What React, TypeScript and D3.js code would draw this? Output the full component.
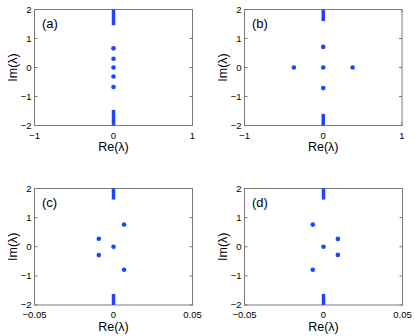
import React from "react";
import * as d3 from "d3";

const panelLabels = ["(a)", "(b)", "(c)", "(d)"];
const xDomains: [number, number][] = [[-1, 1], [-1, 1], [-0.05, 0.05], [-0.05, 0.05]];
const xTicks: number[][] = [[-1, 0, 1], [-1, 0, 1], [-0.05, 0, 0.05], [-0.05, 0, 0.05]];
const yTicks = [-2, -1, 0, 1, 2];

const reA = [0, 0, 0, 0, 0];
const imA = [0.66, 0.3, 0, -0.31, -0.67];
const reB = [0, 0, 0, -0.373, 0.373];
const imB = [0.71, 0, -0.71, 0, 0];
const reC = [-0.0093, -0.0093, 0, 0.0067, 0.0067];
const imC = [0.276, -0.287, 0, 0.76, -0.79];
const reD = [-0.0068, 0.0091, 0, 0.0091, -0.0068];
const imD = [0.76, 0.27, 0, -0.28, -0.79];

// continuous spectrum: edge of band (|Im| from edge to 2)
const bandEdge = [1.46, 1.6, 1.62, 1.62];

const panelRe = [reA, reB, reC, reD];
const panelIm = [imA, imB, imC, imD];

const boxes = [
  { x0: 34.5, x1: 192.5, y0: 9.5, y1: 125.5 },
  { x0: 244.5, x1: 402, y0: 9.5, y1: 125.5 },
  { x0: 34.5, x1: 192.5, y0: 188.5, y1: 305 },
  { x0: 244.5, x1: 402.5, y0: 188.5, y1: 305 },
];

const BLUE = "#1f45ff";
const AXIS = "#7a7a7a";
const FONT = "'Liberation Sans', Arial, sans-serif";

function fmt(v: number) {
  if (v === 0) return "0";
  const s = String(Math.abs(v));
  return (v < 0 ? "\u2212" : "") + s;
}

function Panel({ i }: { i: number }) {
  const b = boxes[i];
  const x = d3.scaleLinear().domain(xDomains[i]).range([b.x0, b.x1]);
  const y = d3.scaleLinear().domain([-2, 2]).range([b.y1, b.y0]);
  const tl = 3;
  const band = bandEdge[i];
  const xs = panelRe[i];
  const ys = panelIm[i];
  return (
    <g>
      <rect x={b.x0} y={b.y0} width={b.x1 - b.x0} height={b.y1 - b.y0} fill="white" stroke={AXIS} strokeWidth={1} />
      {yTicks.map((t) => (
        <g key={"y" + t}>
          <line x1={b.x0} x2={b.x0 + tl} y1={y(t)} y2={y(t)} stroke={AXIS} />
          <line x1={b.x1} x2={b.x1 - tl} y1={y(t)} y2={y(t)} stroke={AXIS} />
          <text x={b.x0 - 3} y={y(t)} dy="0.35em" textAnchor="end" fontSize={9.5} fontFamily={FONT} fill="#000">
            {fmt(t)}
          </text>
        </g>
      ))}
      {xTicks[i].map((t) => (
        <g key={"x" + t}>
          <line x1={x(t)} x2={x(t)} y1={b.y1} y2={b.y1 - tl} stroke={AXIS} />
          <line x1={x(t)} x2={x(t)} y1={b.y0} y2={b.y0 + tl} stroke={AXIS} />
          <text x={x(t)} y={b.y1 + 10} dy="0.35em" textAnchor="middle" fontSize={9.5} fontFamily={FONT} fill="#000">
            {fmt(t)}
          </text>
        </g>
      ))}
      <line x1={x(0)} x2={x(0)} y1={y(2)} y2={y(band)} stroke={BLUE} strokeWidth={3.5} />
      <line x1={x(0)} x2={x(0)} y1={y(-band)} y2={y(-2)} stroke={BLUE} strokeWidth={3.5} />
      {xs.map((v, k) => (
        <circle key={k} cx={x(v)} cy={y(ys[k])} r={2.3} fill={BLUE} />
      ))}
      <text x={b.x0 + 7.5} y={b.y0 + 14} dy="0.35em" fontSize={13} fontFamily={FONT} fill="#000">
        {panelLabels[i]}
      </text>
      <text x={(b.x0 + b.x1) / 2} y={b.y1 + 21.5} dy="0.35em" textAnchor="middle" fontSize={12.5} fontFamily={FONT} fill="#000">
        Re(λ)
      </text>
      <text
        transform={`translate(${b.x0 - 21.5},${(b.y0 + b.y1) / 2}) rotate(-90)`}
        dy="0.35em"
        textAnchor="middle"
        fontSize={12.5}
        fontFamily={FONT}
        fill="#000"
      >
        Im(λ)
      </text>
    </g>
  );
}

export default function App() {
  return (
    <svg width={415} height={336} style={{ position: "absolute", left: 0, top: 0, background: "white" }}>
      <rect width={415} height={336} fill="white" />
      {[0, 1, 2, 3].map((i) => (
        <Panel key={i} i={i} />
      ))}
    </svg>
  );
}
